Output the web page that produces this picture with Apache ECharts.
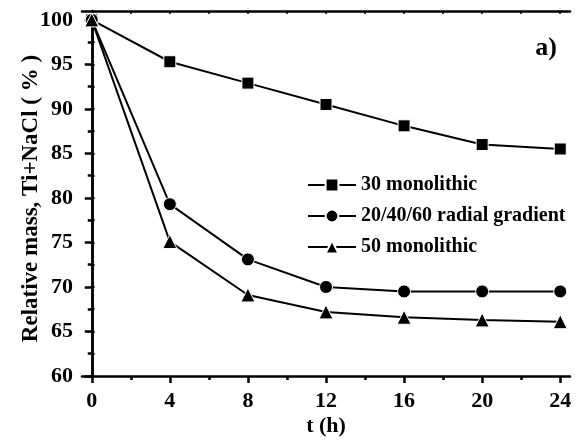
<!DOCTYPE html>
<html><head><meta charset="utf-8">
<script src="https://cdn.jsdelivr.net/npm/echarts@6/dist/echarts.min.js"></script>
<style>html,body{margin:0;padding:0;background:#fff}#c{width:576px;height:442px}</style>
</head><body><div id="c"></div>
<script>
var times = [0, 4, 8, 12, 16, 20, 24];
var mono30 = [100, 95.3, 92.9, 90.5, 88.1, 86.0, 85.5];
var radial = [100, 79.3, 73.1, 70.0, 69.5, 69.5, 69.5];
var mono50 = [100, 75.1, 69.1, 67.2, 66.6, 66.3, 66.1];
var xMajor = [0, 4, 8, 12, 16, 20, 24];
var xMinor = [2, 6, 10, 14, 18, 22];
var xAll = [0, 2, 4, 6, 8, 10, 12, 14, 16, 18, 20, 22, 24];
var yMajor = [60, 65, 70, 75, 80, 85, 90, 95, 100];
var yMinor = [62.5, 67.5, 72.5, 77.5, 82.5, 87.5, 92.5, 97.5];
var yAll = [60, 62.5, 65, 67.5, 70, 72.5, 75, 77.5, 80, 82.5, 85, 87.5, 90, 92.5, 95, 97.5, 100];
var names = ['30 monolithic', '20/40/60 radial gradient', '50 monolithic'];

var F = 'Liberation Serif';
var chart = echarts.init(document.getElementById('c'), null, {renderer: 'canvas'});
function pairs(v) { return times.map(function (t, i) { return [t, v[i]]; }); }
var axLine = {show: true, lineStyle: {color: '#000', width: 2.5}};
var X = {min: -0.5, max: 24.5, type: 'value', splitLine: {show: false}};
var Y = {min: 60, max: 101, type: 'value', splitLine: {show: false}};
function ax(base, extra) { return Object.assign({}, base, extra); }

chart.setOption({
  animation: false,
  backgroundColor: '#fff',
  grid: {left: 82, right: 6, top: 11, bottom: 59},
  title: {text: 'a)', right: 14, top: 30, textStyle: {fontFamily: F, fontWeight: 'bold', fontSize: 26, color: '#000'}},
  legend: {
    orient: 'vertical', left: 302, top: 170, itemGap: 11,
    itemWidth: 48, itemHeight: 16,
    textStyle: {fontFamily: F, fontWeight: 'bold', fontSize: 20, color: '#000'},
    data: names
  },
  xAxis: [
    ax(X, {position: 'bottom', name: 't (h)', nameLocation: 'middle', nameGap: 39, nameMoveOverlap: false,
      nameTextStyle: {fontFamily: F, fontWeight: 'bold', fontSize: 22, color: '#000'},
      axisLine: axLine,
      axisTick: {show: true, customValues: xMajor, length: 7, lineStyle: {width: 2.5, color: '#000'}},
      axisLabel: {customValues: xMajor, fontFamily: F, fontWeight: 'bold', fontSize: 22, color: '#000', margin: 14}}),
    ax(X, {position: 'bottom', axisLine: {show: false},
      axisTick: {show: true, customValues: xMinor, length: 4, lineStyle: {width: 2.5, color: '#000'}},
      axisLabel: {show: false}}),
    ax(X, {position: 'top', axisLine: axLine,
      axisTick: {show: true, inside: true, customValues: xAll, length: 3, lineStyle: {width: 1.5, color: '#000'}},
      axisLabel: {show: false}})
  ],
  yAxis: [
    ax(Y, {position: 'left', name: 'Relative mass, Ti+NaCl ( % )', nameLocation: 'middle', nameGap: 39, nameMoveOverlap: false,
      nameTextStyle: {fontFamily: F, fontWeight: 'bold', fontSize: 23, color: '#000', padding: [0, 10, 0, 0]},
      axisLine: axLine,
      axisTick: {show: true, customValues: yMajor, length: 7, lineStyle: {width: 2.5, color: '#000'}},
      axisLabel: {customValues: yMajor, fontFamily: F, fontWeight: 'bold', fontSize: 22, color: '#000', margin: 9}}),
    ax(Y, {position: 'left', axisLine: {show: false},
      axisTick: {show: true, customValues: yMinor, length: 4, lineStyle: {width: 2.5, color: '#000'}},
      axisLabel: {show: false}}),
    ax(Y, {position: 'right', axisLine: axLine,
      axisTick: {show: true, customValues: yAll, length: 3, lineStyle: {width: 1.5, color: '#000'}},
      axisLabel: {show: false}})
  ],
  series: [
    {name: names[0], type: 'line', data: pairs(mono30), symbol: 'rect', symbolSize: 12,
      lineStyle: {color: '#000', width: 2}, itemStyle: {color: '#000', borderColor: '#fff', borderWidth: 1}},
    {name: names[1], type: 'line', data: pairs(radial), symbol: 'circle', symbolSize: 13,
      lineStyle: {color: '#000', width: 2}, itemStyle: {color: '#000', borderColor: '#fff', borderWidth: 1}},
    {name: names[2], type: 'line', data: pairs(mono50), symbol: 'triangle', symbolSize: 14,
      lineStyle: {color: '#000', width: 2}, itemStyle: {color: '#000', borderColor: '#fff', borderWidth: 1}}
  ]
});
</script></body></html>
